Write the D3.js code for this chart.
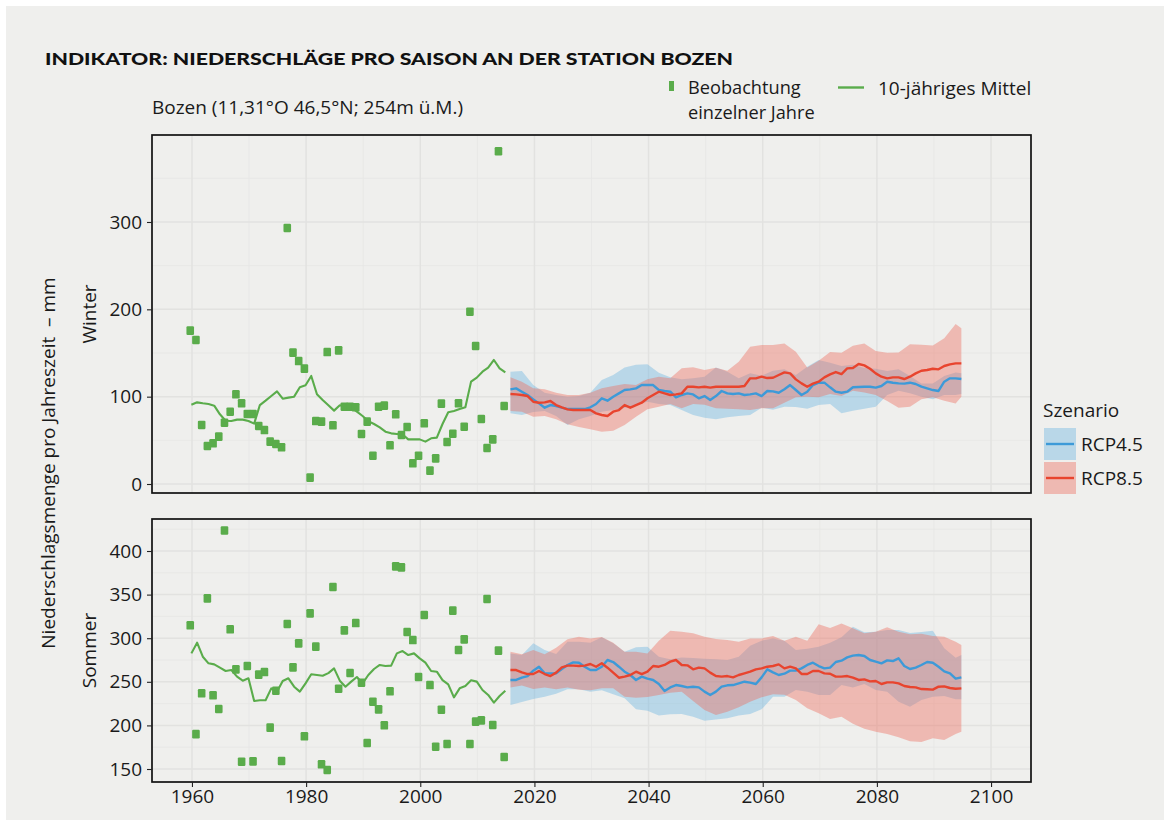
<!DOCTYPE html>
<html><head><meta charset="utf-8">
<script src="https://cdn.jsdelivr.net/npm/d3@7"></script>
<style>
body{margin:0;background:#fff;}
svg{display:block;font-family:"Open Sans","Noto Sans",sans-serif;}
</style></head><body><svg id="c" width="1164" height="820"></svg>
<script>
// ---------- DATA ----------
const obsYears = [1960,1961,1962,1963,1964,1965,1966,1967,1968,1969,1970,1971,1972,1973,1974,1975,1976,1977,1978,1979,1980,1981,1982,1983,1984,1985,1986,1987,1988,1989,1990,1991,1992,1993,1994,1995,1996,1997,1998,1999,2000,2001,2002,2003,2004,2005,2006,2007,2008,2009,2010,2011,2012,2013,2014,2015];
const winterObs = [175.6,164.9,67.6,43.5,46.6,54.2,70.2,82.8,102.7,92.4,80.2,80.2,66.4,61.8,48.5,45.8,42,293.1,150.4,140.8,132.1,7.3,72.1,71.4,151.1,67.2,153,88.5,88.5,87.8,57.3,71.4,32.4,88.5,89.7,44.3,79.8,56.1,65.3,23.7,32.4,69.5,15.3,29.4,92,48.1,57.6,92.4,65.6,197.3,158,74.4,41.2,51.1,381,89.3];
const winterMean = [90.8,93.5,92.4,91.6,89.7,79.8,72.5,72.1,73.7,73.7,72.1,69.1,90.4,95.4,100.8,106.1,97.7,98.9,100,110.7,113,123.7,102.7,96.2,90.1,84,90.1,89.3,87.8,82.8,77.9,71.8,68.7,64.9,59.9,58,57.3,56.5,51.1,51.1,51.1,48.5,52.3,53.1,68.7,82.1,83.6,85.9,87.8,117.2,121.8,128.6,133.2,142,132.4,127.9];
const summerObs = [314.8,190,236.8,345.7,234.5,218.8,423.5,310.2,264.3,158.4,268.1,158.8,258.2,261.2,197.4,239.8,159.2,316.3,266.6,294.1,187.5,328.5,290.3,155.4,148.9,358.7,242.1,309,260.1,317.4,249,179.8,227.2,218.4,200.1,239.1,382.4,381.2,307.1,297.9,255.5,326.6,246.3,175.6,218,178.7,331.6,286.5,298.7,178.7,204.3,205.8,345,200.5,285.7,163.8];
const summerMean = [282.6,294.9,278.8,271.2,270,266.2,262.4,263.5,255.9,251.3,254,228,228.8,228.8,242.5,238.7,250.9,254,244.4,238.7,248.2,258.6,257.8,257,260,265.4,251.3,244.4,250.2,255.5,248.2,257.8,264.7,269.3,268.1,268.5,282.6,285.3,280.7,282.6,276.9,271.9,262.4,261.6,252,247.1,232.2,242.5,245.2,251.7,250.2,240.6,234.9,226.1,233.7,239.8];

const projYears = [2016,2017,2018,2019,2020,2021,2022,2023,2024,2025,2026,2027,2028,2029,2030,2031,2032,2033,2034,2035,2036,2037,2038,2039,2040,2041,2042,2043,2044,2045,2046,2047,2048,2049,2050,2051,2052,2053,2054,2055,2056,2057,2058,2059,2060,2061,2062,2063,2064,2065,2066,2067,2068,2069,2070,2071,2072,2073,2074,2075,2076,2077,2078,2079,2080,2081,2082,2083,2084,2085,2086,2087,2088,2089,2090,2091,2092,2093,2094,2095];
const winterRcp45 = [108.4,109.5,105.7,101.9,96.9,92.3,87.4,90.4,89.3,87.4,85.8,85.8,85.8,85.8,87.8,91.6,98.1,95.4,100,103.8,107.6,108.4,109.5,113.3,113.3,113.3,107.6,106.5,105.7,99.2,101.9,103.8,102.6,98.1,100.7,96.2,100.7,106.5,103.8,103,103.8,101.9,102.6,103.8,100.7,106.5,106.1,104.5,108.4,113.3,107.6,101.9,105.7,113.3,116,116,110.7,105.7,104.5,105.7,110.7,111,111.4,111.4,110.3,112.2,117.1,116,115.2,114.9,116,114.5,111.4,109.5,107.6,106.5,117.1,121,121,120.2];
const winterRcp85 = [103,102.6,101.9,100.7,94.2,93.1,93.5,95,90.4,87.8,85.5,84.7,84.7,84.7,84.7,80.9,79,77.8,82.8,84.7,90.4,87.4,90.4,93.1,98.1,101.9,105.7,103.8,101.9,102.6,103.8,111.4,111.4,110.7,111.4,110.3,111.4,111.4,111.4,111.4,111.4,112.2,121,121,122.9,121.3,121.7,124.8,127.8,126.7,119.8,115.2,111.4,114.9,117.1,122.1,125.5,128.2,125.9,132.4,132.8,137.4,135.8,132,126.7,122.9,121,122.1,122.1,120.2,122.9,126.7,129.7,130.5,132,131.3,135.1,137,138.1,138.1];
const summerRcp45 = [252.1,252.1,254.7,256.6,262.8,267.3,259.7,259.7,259.7,264.7,269.3,272.3,271.9,267.3,263.5,263.5,267.3,275,272.7,267.3,261.6,257.8,252.1,255.9,253.6,252.1,247.5,239.4,243.6,246.3,245.2,243.6,244.4,243.6,238.7,234.9,238.7,244.4,246,246.3,248.2,250.1,249,247.5,255.1,264.3,260.8,257.8,259.3,262.8,262.8,265.4,269.3,271.9,268.1,265.4,266.2,272.7,274.2,278,280,280.7,279.6,275,273.1,271.2,274.6,273.8,276.9,268.1,264.7,266.2,269.3,272.7,271.9,267.3,262,259.7,253.6,255.1];
const summerRcp85 = [263.5,263.5,260.8,258.9,258.9,262.4,258.9,256.6,260.5,266.6,268.5,268.5,268.1,268.5,270.4,267.3,271.2,266.2,260.5,254.7,255.9,257.8,261.6,258.9,261.6,268.1,267.3,269.3,273.1,275,269.3,268.9,264.3,266.2,265.4,260.5,256.6,255.9,256.6,255.1,257.8,259.7,261.6,264.3,265.4,267.3,268.1,270,265.4,267.3,265.4,259,259,262.4,262.4,259.7,259.3,255.9,255.9,256.6,254.7,252.1,252.8,250.5,250.9,247.5,249.4,249.4,248.2,245.2,244,243.6,241.7,241.4,241,244.4,244.8,242.9,242.1,242.5];

const bandYears = [2016,2018,2020,2022,2024,2026,2028,2030,2032,2034,2036,2038,2040,2042,2044,2046,2048,2050,2052,2054,2056,2058,2060,2062,2064,2066,2068,2070,2072,2074,2076,2078,2080,2082,2084,2086,2088,2090,2092,2094,2095];
const winterRcp45Hi = [128.6,129.4,113.3,104.5,101.9,100,100.7,104.5,119.1,124.8,133.5,136.6,137,127.4,122.1,119.8,121,122.9,133.5,128.6,121,126.7,124,129.7,131.3,124.8,134.3,142,138.9,135.1,136.6,132.8,132,129.4,131.3,123.6,115.2,115.2,123.6,127.8,126.7];
const winterRcp45Lo = [80.9,79,82.4,83.6,77.8,67.5,74,77.8,82.8,84.7,87,90.8,94.2,91.6,90.4,84.7,79,75.9,74,76.3,77.8,79,87.4,85.1,88.5,88.1,86.2,90.4,91.6,80.9,83.9,86.2,88.5,101.9,106.8,103.8,100,96.9,101.9,101.9,103];
const winterRcp85Hi = [122.1,117.1,109.5,108.4,104.5,101.9,101.9,104.5,109.5,112.2,114.5,113.3,119.8,122.9,121,132.4,133.6,130.5,133.2,129.7,140,157.2,159.1,159.1,161,151.5,133.5,141.2,151.1,150.3,158.4,161,152.3,150.3,150.7,159.9,159.5,158.7,166.8,183.2,178.2];
const winterRcp85Lo = [83.6,82.8,77.1,77.8,74,68.3,65.2,62.6,59.9,61,67.5,77.1,85.5,88.5,91.6,86.6,91.6,90.8,86.6,86.2,85.5,84.7,86.6,86.6,93.1,99.2,100,99.2,103,100.7,106.8,104.9,101.9,95,87.4,88.5,96.9,99.2,95.4,92.3,100];
const summerRcp45Hi = [282.6,280.7,294.1,286.5,281.9,296,296,294.9,301,294.1,284.5,289.5,290.3,278.8,275.8,278,277.3,276.5,275.8,275,278.8,291.4,297.2,299.8,297.2,286.5,288,290.3,294.9,301,313.2,306.7,307.5,309.4,309.4,306,307.1,308.6,288.4,277.7,280.7];
const summerRcp45Lo = [223.4,226.8,230.3,232.9,236.4,241.4,241.4,238.7,240.2,235.6,231,218.4,216.9,211.5,212.7,213.1,210,205.4,206.9,208.1,211.5,213.1,218.4,232.9,232.9,240.6,238.7,234.9,234.9,246.3,243.6,247.5,240.6,238.7,227.2,221.5,229.1,232.9,233.7,229.9,229.9];
const summerRcp85Hi = [284.5,281.5,286.5,281.5,289.1,298.7,301.8,299.8,301.4,294.9,284.5,284.5,282.6,297.2,308.6,307.5,305.6,301.8,299.1,297.9,296,299.8,299.8,302.5,297.2,301.8,297.2,315.9,311.7,317,311.3,305.6,307.5,312.5,307.5,304.4,305.2,302.5,301.8,296,292.2];
const summerRcp85Lo = [243.5,245.9,241.7,243.6,241.4,243.6,241,240.2,242.5,242.5,232.9,231.8,232.6,234.9,237.5,238.7,228,217.7,211.9,215.7,220.7,227.2,232.2,235.6,235.2,229.1,219.6,213.8,207.3,210,202,196.3,192.8,190.1,186.3,181.7,181,185.2,183.3,190.1,192.8];

const xMajorTicks = [1960,1980,2000,2020,2040,2060,2080,2100];
const xMinorTicks = [1970,1990,2010,2030,2050,2070,2090];
const winterTicks = [0,100,200,300];
const winterMinor = [50,150,250,350];
const summerTicks = [150,200,250,300,350,400];
const summerMinor = [175,225,275,325,375,425];
const scenarios = ["RCP4.5","RCP8.5"];

// ---------- STYLE ----------
const BG = "#efefed", GREEN = "#5aac4b", BLUE = "#3d9ad8", RED = "#e8442e";
const BLUE_FILL = "rgb(104,179,225)", RED_FILL = "rgb(237,104,90)", FILL_OP = 0.4;
const OBS_SHIFT = -0.3, MEAN_SHIFT = -0.1, PROJ_SHIFT = -0.2;

const svg = d3.select("#c");
svg.append("rect").attr("x",6).attr("y",6).attr("width",1158).attr("height",814).attr("fill",BG);

const x = d3.scaleLinear().domain([1953,2107]).range([152,1031]);

const panels = [
  {name:"Winter", y:d3.scaleLinear().domain([-10.3,399.6]).range([493,135]),
   major:winterTicks, minor:winterMinor, obs:winterObs, mean:winterMean,
   l45:winterRcp45, l85:winterRcp85, h45:winterRcp45Hi, lo45:winterRcp45Lo, h85:winterRcp85Hi, lo85:winterRcp85Lo},
  {name:"Sommer", y:d3.scaleLinear().domain([135.1,436.7]).range([782,519]),
   major:summerTicks, minor:summerMinor, obs:summerObs, mean:summerMean,
   l45:summerRcp45, l85:summerRcp85, h45:summerRcp45Hi, lo45:summerRcp45Lo, h85:summerRcp85Hi, lo85:summerRcp85Lo}
];

panels.forEach(p => {
  const y = p.y;
  const [x0,x1] = x.range(); const [yb,yt] = y.range();
  const g = svg.append("g");
  g.selectAll(".vmin").data(xMinorTicks).join("line")
    .attr("x1",d=>x(d)).attr("x2",d=>x(d)).attr("y1",yt).attr("y2",yb)
    .attr("stroke","#e6e6e4").attr("stroke-width",0.8);
  g.selectAll(".hmin").data(p.minor).join("line")
    .attr("x1",x0).attr("x2",x1).attr("y1",d=>y(d)).attr("y2",d=>y(d))
    .attr("stroke","#e6e6e4").attr("stroke-width",0.8);
  g.selectAll(".vmaj").data(xMajorTicks).join("line")
    .attr("x1",d=>x(d)).attr("x2",d=>x(d)).attr("y1",yt).attr("y2",yb)
    .attr("stroke","#e2e2e0").attr("stroke-width",1.5);
  g.selectAll(".hmaj").data(p.major).join("line")
    .attr("x1",x0).attr("x2",x1).attr("y1",d=>y(d)).attr("y2",d=>y(d))
    .attr("stroke","#e2e2e0").attr("stroke-width",1.5);

  const area = d3.area().x(d=>x(d[0]+PROJ_SHIFT)).y0(d=>y(d[1])).y1(d=>y(d[2]));
  g.append("path").datum(bandYears.map((yr,i)=>[yr,p.lo45[i],p.h45[i]]))
    .attr("d",area).attr("fill",BLUE_FILL).attr("fill-opacity",FILL_OP);
  g.append("path").datum(bandYears.map((yr,i)=>[yr,p.lo85[i],p.h85[i]]))
    .attr("d",area).attr("fill",RED_FILL).attr("fill-opacity",FILL_OP);

  const pline = d3.line().x(d=>x(d[0]+PROJ_SHIFT)).y(d=>y(d[1]));
  g.append("path").datum(projYears.map((yr,i)=>[yr,p.l45[i]]))
    .attr("d",pline).attr("fill","none").attr("stroke",BLUE).attr("stroke-width",2.4).attr("stroke-linejoin","round");
  g.append("path").datum(projYears.map((yr,i)=>[yr,p.l85[i]]))
    .attr("d",pline).attr("fill","none").attr("stroke",RED).attr("stroke-width",2.4).attr("stroke-linejoin","round");

  const mline = d3.line().x(d=>x(d[0]+MEAN_SHIFT)).y(d=>y(d[1]));
  g.append("path").datum(obsYears.map((yr,i)=>[yr,p.mean[i]]))
    .attr("d",mline).attr("fill","none").attr("stroke",GREEN).attr("stroke-width",2.1).attr("stroke-linejoin","round");

  g.selectAll(".pt").data(obsYears.map((yr,i)=>[yr,p.obs[i]])).join("rect")
    .attr("x",d=>x(d[0]+OBS_SHIFT)-3.8).attr("y",d=>y(d[1])-4.3)
    .attr("width",7.6).attr("height",8.6).attr("rx",1.2).attr("fill",GREEN);

  g.append("rect").attr("x",x0).attr("y",yt).attr("width",x1-x0).attr("height",yb-yt)
    .attr("fill","none").attr("stroke","#111").attr("stroke-width",1.7);

  const ax = svg.append("g").attr("transform",`translate(${x0},0)`)
    .call(d3.axisLeft(y).tickValues(p.major).tickSize(5).tickPadding(5));
  ax.select(".domain").remove();
  ax.selectAll(".tick line").attr("stroke","#222").attr("stroke-width",1.1);
  ax.selectAll(".tick text").attr("font-size",19).attr("fill","#1a1a1a")
    .attr("font-family","'Open Sans','Noto Sans',sans-serif");

  svg.append("text").attr("transform",`translate(96,${(yt+yb)/2}) rotate(-90)`)
    .attr("text-anchor","middle").attr("font-size",19).attr("fill","#1a1a1a").text(p.name);
});

const xa = svg.append("g").attr("transform","translate(0,782)")
  .call(d3.axisBottom(x).tickValues(xMajorTicks).tickSize(5).tickPadding(3).tickFormat(d3.format("d")));
xa.select(".domain").remove();
xa.selectAll(".tick line").attr("stroke","#222").attr("stroke-width",1.1);
xa.selectAll(".tick text").attr("font-size",19).attr("fill","#1a1a1a")
  .attr("font-family","'Open Sans','Noto Sans',sans-serif");

svg.append("text").attr("transform","translate(55,463) rotate(-90)")
  .attr("text-anchor","middle").attr("font-size",19).attr("fill","#1a1a1a")
  .style("white-space","pre").text("Niederschlagsmenge pro Jahreszeit  \u2013 mm");

svg.append("text").attr("x",45).attr("y",65)
  .attr("font-family","Lato,'Open Sans',sans-serif").attr("font-weight",900).attr("font-size",17.5)
  .attr("fill","#111").attr("textLength",688).attr("lengthAdjust","spacingAndGlyphs")
  .text("INDIKATOR: NIEDERSCHLÄGE PRO SAISON AN DER STATION BOZEN");

svg.append("text").attr("x",152).attr("y",114).attr("font-size",19).attr("fill","#1a1a1a")
  .text("Bozen (11,31°O 46,5°N; 254m ü.M.)");

// top legend
svg.append("rect").attr("x",669).attr("y",81).attr("width",5).attr("height",10).attr("fill",GREEN);
svg.append("text").attr("x",688).attr("y",94).attr("font-size",18.2).attr("fill","#1a1a1a").text("Beobachtung");
svg.append("text").attr("x",688).attr("y",119).attr("font-size",18.2).attr("fill","#1a1a1a").text("einzelner Jahre");
svg.append("line").attr("x1",838).attr("x2",864).attr("y1",87.5).attr("y2",87.5)
  .attr("stroke",GREEN).attr("stroke-width",2.4);
svg.append("text").attr("x",878).attr("y",95).attr("font-size",19).attr("fill","#1a1a1a").text("10-jähriges Mittel");

// scenario legend
svg.append("text").attr("x",1043).attr("y",417).attr("font-size",19).attr("fill","#1a1a1a").text("Szenario");
const legFill = [BLUE_FILL, RED_FILL], legLine = [BLUE, RED];
scenarios.forEach((s,i) => {
  const ky = 428 + i*34;
  svg.append("rect").attr("x",1044).attr("y",ky).attr("width",32).attr("height",32)
    .attr("fill",legFill[i]).attr("fill-opacity",FILL_OP);
  svg.append("line").attr("x1",1046).attr("x2",1074).attr("y1",ky+16).attr("y2",ky+16)
    .attr("stroke",legLine[i]).attr("stroke-width",2.4);
  svg.append("text").attr("x",1081).attr("y",ky+23).attr("font-size",19).attr("fill","#1a1a1a").text(s);
});
</script>
</body></html>
